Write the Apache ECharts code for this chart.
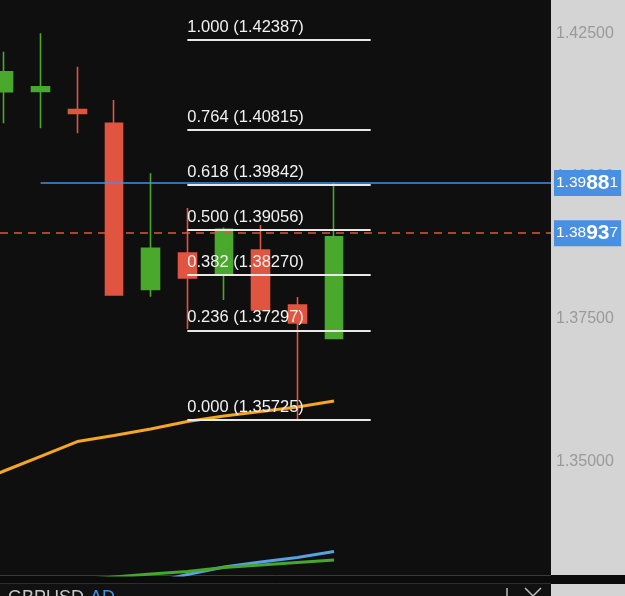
<!DOCTYPE html>
<html><head><meta charset="utf-8">
<script src="https://cdn.jsdelivr.net/npm/echarts@6/dist/echarts.min.js"></script>
<style>html,body{margin:0;padding:0;background:#d4d4d4;}#c{width:625px;height:596px;}</style>
</head><body><div id="c"></div>
<script>
// ---- data ----
const candleIndex = [0, 1, 2, 3, 4, 5, 6, 7, 8, 9];
const opens  = [1.41481, 1.41485, 1.41169, 1.40927, 1.38016, 1.38653, 1.38267, 1.38705, 1.37741, 1.37157];
const closes = [1.41831, 1.41565, 1.41098, 1.37916, 1.38735, 1.38214, 1.39068, 1.37653, 1.37426, 1.38937];
const lows   = [1.40927, 1.40839, 1.40751, 1.37910, 1.37887, 1.37320, 1.37829, 1.37640, 1.35725, 1.37150];
const highs  = [1.42182, 1.42504, 1.41919, 1.41335, 1.40050, 1.39442, 1.39100, 1.39144, 1.37881, 1.39881];

const orangeIdx = [-1, 0, 1, 2, 3, 4, 5, 6, 7, 8, 9];
const orangeMA  = [1.34568, 1.34831, 1.35089, 1.35348, 1.35453, 1.35567, 1.35699, 1.35795, 1.35874, 1.35953, 1.36058];
const greenIdx  = [1, 2, 3, 4, 5, 6, 7, 8, 9];
const greenMA   = [1.32860, 1.32920, 1.32973, 1.33025, 1.33069, 1.33139, 1.33183, 1.33227, 1.33271];
const blueIdx   = [3, 4, 5, 6, 7, 8, 9];
const blueMA    = [1.32710, 1.32867, 1.33016, 1.33148, 1.33235, 1.33314, 1.33420];

const fibRatios = [1.000, 0.764, 0.618, 0.500, 0.382, 0.236, 0.000];
const fibPrices = [1.42387, 1.40815, 1.39842, 1.39056, 1.38270, 1.37297, 1.35725];
const fibStartIdx = 5, fibEndIdx = 10;

const highLinePrice = 1.39881, highLineStartIdx = 1;
const lastPrice = 1.38937;
const yTicks = [1.350, 1.375, 1.400, 1.425];
const yMin = 1.33008, yMax = 1.43088;
const xMin = -0.109, xMax = 14.917;

// ---- chart ----
const chart = echarts.init(document.getElementById('c'));
const FONT = 'Liberation Sans, Arial, sans-serif';
const candleData = candleIndex.map((x, i) => [x, opens[i], closes[i], lows[i], highs[i]]);
const pair = (xs, ys) => xs.map((x, i) => [x, ys[i]]);

function tagLabel(v) {
  return {
    show: true, position: 'end', distance: 3,
    backgroundColor: '#4a90e2', padding: [2, 3, 2, 2],
    formatter: () => { const s = v.toFixed(5); return '{a|' + s.slice(0, 4) + '}{b|' + s.slice(4, 6) + '}{a|' + s.slice(6) + '}'; },
    rich: {
      a: {fontSize: 15.5, color: '#fff', fontFamily: FONT, lineHeight: 22},
      b: {fontSize: 21, color: '#fff', fontWeight: 'bold', fontFamily: FONT, lineHeight: 22}
    }
  };
}

const fibLines = fibRatios.map((r, i) => [
  {coord: [fibStartIdx, fibPrices[i]], name: r.toFixed(3) + ' (' + fibPrices[i].toFixed(5) + ')'},
  {coord: [fibEndIdx, fibPrices[i]]}
]);

const option = {
  backgroundColor: '#d4d4d4',
  animation: false,
  grid: {left: 0, top: 0, width: 551, height: 575, show: true, backgroundColor: '#0f0f0f', borderWidth: 0},
  xAxis: {type: 'value', min: xMin, max: xMax, show: false},
  yAxis: {
    type: 'value', position: 'right', min: yMin, max: yMax,
    axisLine: {show: false}, axisTick: {show: false}, splitLine: {show: false},
    axisLabel: {customValues: yTicks, formatter: v => v.toFixed(5), color: '#9a9a9a', fontSize: 16, margin: 5, fontFamily: FONT}
  },
  series: [
    {type: 'line', data: pair(blueIdx, blueMA), showSymbol: false, lineStyle: {color: '#5aa0e6', width: 3}, z: 1},
    {type: 'line', data: pair(greenIdx, greenMA), showSymbol: false, lineStyle: {color: '#45a82a', width: 3}, z: 1},
    {type: 'line', data: pair(orangeIdx, orangeMA), showSymbol: false, lineStyle: {color: '#f5a623', width: 3}, z: 1},
    {
      type: 'candlestick', data: candleData, encode: {x: 0, y: [1, 2, 3, 4]}, barWidth: 18,
      itemStyle: {color: '#4aa82d', color0: '#e05440', borderColor: '#4aa82d', borderColor0: '#e05440', borderWidth: 1.6},
      z: 3,
      markLine: {
        silent: true, symbol: ['none', 'none'], animation: false,
        label: {show: true, position: 'insideStartTop', formatter: '{b}', color: '#f2f2f2', fontSize: 16.5, fontFamily: FONT, distance: [0, 4]},
        lineStyle: {color: '#e8e8e8', width: 2, type: 'solid'},
        emphasis: {disabled: true},
        data: fibLines.concat([
          {yAxis: lastPrice, lineStyle: {color: '#e0553f', width: 1.5, type: [8, 6]}, label: tagLabel(lastPrice)},
          [
            {coord: [highLineStartIdx, highLinePrice], lineStyle: {color: '#4a8fe0', width: 1.5, type: 'solid'}, label: tagLabel(highLinePrice)},
            {coord: [xMax, highLinePrice]}
          ]
        ])
      }
    }
  ],
  graphic: [
    {type: 'rect', shape: {x: 0, y: 575, width: 625, height: 9}, style: {fill: '#0b0b0b'}},
    {type: 'line', shape: {x1: 0, y1: 575.5, x2: 551, y2: 575.5}, style: {stroke: '#3a3a3a', lineWidth: 1}},
    {type: 'line', shape: {x1: 0, y1: 583.5, x2: 551, y2: 583.5}, style: {stroke: '#2e2e2e', lineWidth: 1}},
    {type: 'rect', shape: {x: 0, y: 584, width: 551, height: 12}, style: {fill: '#111'}},
    {type: 'text', x: 8, y: 589, style: {text: 'GBPUSD', fill: '#c8c8c8', font: '18px ' + FONT, textVerticalAlign: 'top'}},
    {type: 'text', x: 90, y: 589, style: {text: 'AD', fill: '#4a90e2', font: '18px ' + FONT, textVerticalAlign: 'top'}},
    {type: 'line', shape: {x1: 507, y1: 588, x2: 507, y2: 600}, style: {stroke: '#bbb', lineWidth: 1.5}},
    {type: 'line', shape: {x1: 525, y1: 588, x2: 541, y2: 604}, style: {stroke: '#bbb', lineWidth: 1.5}},
    {type: 'line', shape: {x1: 541, y1: 588, x2: 525, y2: 604}, style: {stroke: '#bbb', lineWidth: 1.5}}
  ]
};
chart.setOption(option);
</script>
</body></html>
